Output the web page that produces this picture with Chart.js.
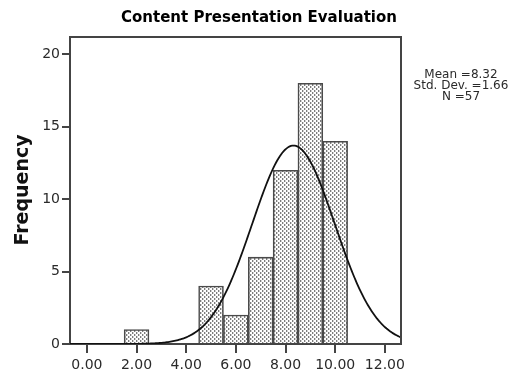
<!DOCTYPE html>
<html>
<head>
<meta charset="utf-8">
<script src="https://cdn.jsdelivr.net/npm/chart.js@4.4.1/dist/chart.umd.min.js"></script>
<style>
  html, body { margin: 0; padding: 0; background: #fff; }
  #wrap { width: 517px; height: 374px; position: relative; }
</style>
</head>
<body>
<div id="wrap"><canvas id="c" width="517" height="374"></canvas></div>
<script>
// Histogram of content presentation scores (bin width 1.0)
const binCenters = [2, 5, 6, 7, 8, 9, 10];
const frequencies = [1, 4, 2, 6, 12, 18, 14];

// Summary statistics shown beside the plot
const statMean = 8.32;
const statStdDev = 1.66;
const statN = 57;
const binWidth = 1;

// Axis ticks
const xTickValues = [0, 2, 4, 6, 8, 10, 12];
const xTickLabels = ['0.00', '2.00', '4.00', '6.00', '8.00', '10.00', '12.00'];
const yTickValues = [0, 5, 10, 15, 20];

const xMin = -0.68, xMax = 12.65;
const yMin = 0, yMax = 21.2;

// Fitted normal curve scaled to counts: N * width * pdf(x)
const curvePoints = [];
for (let x = xMin; x <= xMax + 1e-9; x += 0.05) {
  const z = (x - statMean) / statStdDev;
  const y = statN * binWidth * Math.exp(-0.5 * z * z) / (statStdDev * Math.sqrt(2 * Math.PI));
  curvePoints.push({ x: x, y: y });
}

// Dotted fill pattern for bars
function makePattern(ctx) {
  const t = document.createElement('canvas');
  t.width = 4; t.height = 4;
  const g = t.getContext('2d');
  g.fillStyle = '#ffffff';
  g.fillRect(0, 0, 4, 4);
  g.fillStyle = '#7c7c7c';
  g.fillRect(0, 0, 1, 2);
  g.fillRect(2, 2, 1, 2);
  g.fillStyle = '#d0d0d0';
  g.fillRect(1, 0, 1, 2);
  g.fillRect(3, 2, 1, 2);
  return ctx.createPattern(t, 'repeat');
}

const canvas = document.getElementById('c');
const ctx = canvas.getContext('2d');
const pattern = makePattern(ctx);

const axisColor = '#444444';
const textColor = '#2a2a2a';
const tickFont = { size: 14, family: '"DejaVu Sans", sans-serif' };

const decorations = {
  id: 'decorations',
  afterDraw(chart) {
    const c = chart.ctx;
    const a = chart.chartArea;
    c.save();
    // frame top and right
    c.strokeStyle = axisColor;
    c.lineWidth = 2;
    c.beginPath();
    c.moveTo(a.left, a.top);
    c.lineTo(a.right, a.top);
    c.lineTo(a.right, a.bottom);
    c.stroke();

    // title
    c.fillStyle = '#000';
    c.textAlign = 'center';
    c.textBaseline = 'middle';
    c.font = 'bold 15px "DejaVu Sans", sans-serif';
    c.fillText('Content Presentation Evaluation', 259, 18);

    // y axis title
    c.save();
    c.translate(23, 190);
    c.rotate(-Math.PI / 2);
    c.font = 'bold 19px "DejaVu Sans", sans-serif';
    c.fillStyle = '#111';
    c.fillText('Frequency', 0, 0);
    c.restore();

    // statistics box
    c.font = '12px "DejaVu Sans", sans-serif';
    c.fillStyle = textColor;
    c.fillText('Mean =' + statMean.toFixed(2), 461, 75);
    c.fillText('Std. Dev. =' + statStdDev.toFixed(2), 461, 86);
    c.fillText('N =' + statN, 461, 97);
    c.restore();
  }
};

new Chart(ctx, {
  data: {
    datasets: [
      {
        type: 'line',
        data: curvePoints,
        borderColor: '#111',
        borderWidth: 1.8,
        pointRadius: 0,
        tension: 0,
        fill: false,
        order: 0
      },
      {
        type: 'bar',
        data: binCenters.map((x, i) => ({ x: x, y: frequencies[i] })),
        backgroundColor: pattern,
        borderColor: '#4a4a4a',
        borderWidth: 1.6,
        barPercentage: 1,
        categoryPercentage: 1,
        order: 1
      }
    ]
  },
  options: {
    responsive: false,
    animation: false,
    layout: { padding: { left: 0, right: 116, top: 37, bottom: 0 } },
    plugins: { legend: { display: false }, tooltip: { enabled: false } },
    scales: {
      x: {
        type: 'linear',
        offset: false,
        min: xMin,
        max: xMax,
        afterBuildTicks: s => { s.ticks = xTickValues.map(v => ({ value: v })); },
        afterFit: s => { s.height = 30; },
        border: { color: axisColor, width: 2 },
        grid: { offset: false, drawOnChartArea: false, drawTicks: true, tickLength: 9, color: axisColor, lineWidth: 2 },
        ticks: {
          autoSkip: false,
          maxRotation: 0,
          padding: 4,
          color: textColor,
          font: tickFont,
          callback: (v) => xTickLabels[xTickValues.indexOf(v)]
        }
      },
      y: {
        type: 'linear',
        min: yMin,
        max: yMax,
        afterBuildTicks: s => { s.ticks = yTickValues.map(v => ({ value: v })); },
        afterFit: s => { s.width = 70; },
        border: { color: axisColor, width: 2 },
        grid: { drawOnChartArea: false, drawTicks: true, tickLength: 8, color: axisColor, lineWidth: 2 },
        ticks: {
          padding: 2,
          color: textColor,
          font: tickFont
        }
      }
    }
  },
  plugins: [decorations]
});
</script>
</body>
</html>
